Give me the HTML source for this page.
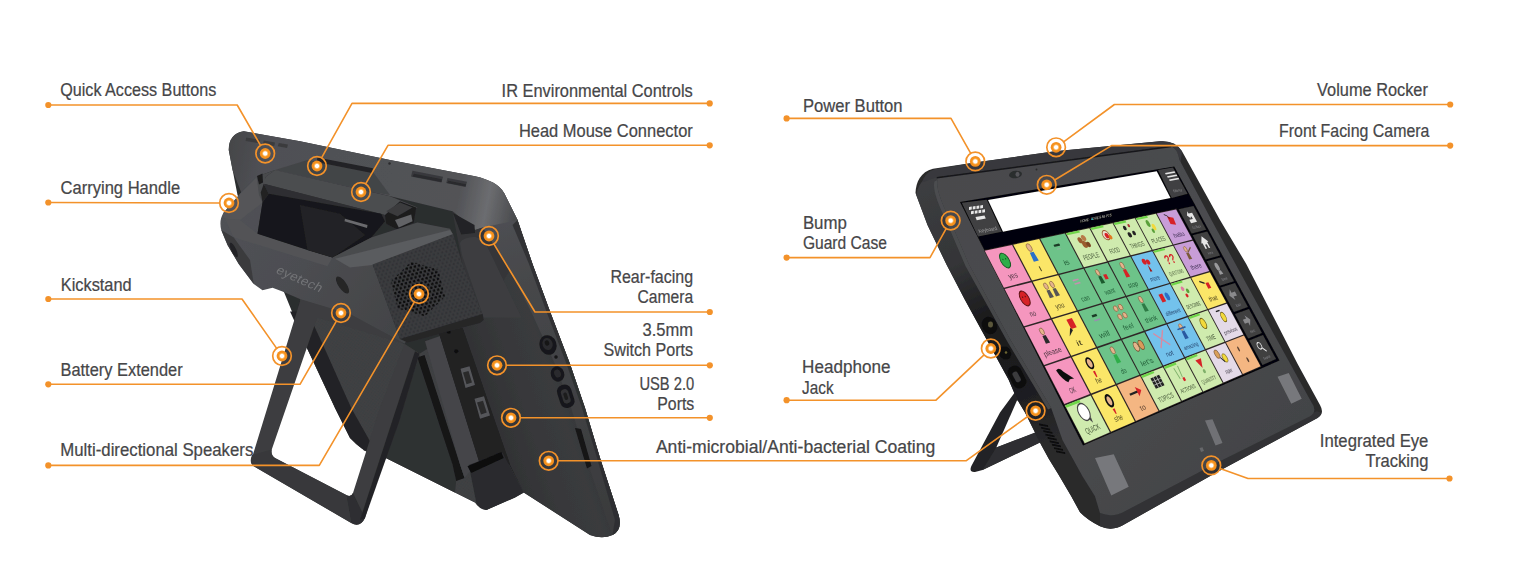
<!DOCTYPE html>
<html><head><meta charset="utf-8"><title>Device features</title>
<style>
html,body{margin:0;padding:0;background:#fff;}
body{width:1536px;height:578px;overflow:hidden;font-family:"Liberation Sans",sans-serif;}
svg{display:block}
svg text{font-family:"Liberation Sans",sans-serif;}
#labels text{font-size:17.5px;fill:#464648;stroke:#464648;stroke-width:0.22px;}
</style></head><body>
<svg width="1536" height="578" viewBox="0 0 1536 578">
<defs>
<radialGradient id="mkg" cx="0.5" cy="0.5" r="0.5">
<stop offset="0" stop-color="#ffffff"/><stop offset="0.3" stop-color="#ffffff"/><stop offset="0.48" stop-color="#fbb866"/><stop offset="0.62" stop-color="#f7941d"/><stop offset="1" stop-color="#f28c1e"/>
</radialGradient>
<g id="mk">
<circle r="9.3" fill="none" stroke="#F3922A" stroke-width="1.7"/>
<circle r="5.4" fill="url(#mkg)"/>
</g>
<linearGradient id="lgTop" gradientUnits="userSpaceOnUse" x1="115" y1="100" x2="1270" y2="330">
<stop offset="0" stop-color="#454649"/><stop offset="0.12" stop-color="#4f5054"/><stop offset="0.8" stop-color="#525357"/><stop offset="0.9" stop-color="#6c6d70"/><stop offset="1" stop-color="#4a4b4e"/>
</linearGradient>
<linearGradient id="lgSide" gradientUnits="userSpaceOnUse" x1="1050" y1="1000" x2="1560" y2="830">
<stop offset="0" stop-color="#2f3032"/><stop offset="0.35" stop-color="#37383a"/><stop offset="0.6" stop-color="#3a3b3d"/><stop offset="0.82" stop-color="#343537"/><stop offset="1" stop-color="#2d2e30"/>
</linearGradient>
<linearGradient id="lgHandle" gradientUnits="userSpaceOnUse" x1="80" y1="300" x2="800" y2="800">
<stop offset="0" stop-color="#515256"/><stop offset="0.5" stop-color="#4c4d51"/><stop offset="1" stop-color="#434447"/>
</linearGradient>
<pattern id="mesh" width="17" height="28" patternUnits="userSpaceOnUse" patternTransform="rotate(-14)">
<rect width="17" height="28" fill="#3a3b3e"/>
<circle cx="4.25" cy="7" r="4.6" fill="#313235"/><circle cx="12.75" cy="21" r="4.6" fill="#313235"/>
</pattern>
<pattern id="meshB" width="17" height="28" patternUnits="userSpaceOnUse" patternTransform="rotate(-14)">
<rect width="17" height="28" fill="#38393b"/>
<circle cx="4.25" cy="7" r="5.4" fill="#09090b"/><circle cx="12.75" cy="21" r="5.4" fill="#09090b"/>
</pattern>
<pattern id="mesh2" width="8" height="8" patternUnits="userSpaceOnUse" patternTransform="rotate(25)">
<rect width="8" height="8" fill="#404144"/>
<circle cx="2" cy="2" r="1.3" fill="#333437"/><circle cx="6" cy="6" r="1.3" fill="#333437"/>
</pattern>
<filter id="soft" x="-5%" y="-5%" width="110%" height="110%"><feGaussianBlur stdDeviation="1.6"/></filter>
<linearGradient id="bezel" gradientUnits="userSpaceOnUse" x1="200" y1="200" x2="1400" y2="1400">
<stop offset="0" stop-color="#48494c"/><stop offset="0.5" stop-color="#4b4c4f"/><stop offset="1" stop-color="#434447"/>
</linearGradient>
<linearGradient id="rside" gradientUnits="userSpaceOnUse" x1="100" y1="250" x2="600" y2="1300">
<stop offset="0" stop-color="#3c3d40"/><stop offset="0.3" stop-color="#343537"/><stop offset="0.5" stop-color="#1c1c1e"/><stop offset="0.8" stop-color="#1e1e20"/><stop offset="1" stop-color="#2a2a2c"/>
</linearGradient>
<linearGradient id="lgRim" gradientUnits="userSpaceOnUse" x1="1200" y1="350" x2="1600" y2="1600">
<stop offset="0" stop-color="#4f5054"/><stop offset="0.25" stop-color="#46474a"/><stop offset="1" stop-color="#3a3b3d"/>
</linearGradient>

</defs>
<rect width="1536" height="578" fill="#ffffff"/>
<g id="left-device">
<g transform="translate(200,120) scale(0.25)" filter="url(#soft)">
<!-- a. tablet back main silhouette -->
<path d="M115,120 Q115,55 175,45 L400,85 L760,160 L1100,225 Q1190,245 1215,290 L1270,400 L1330,576 L1400,766 L1480,976 L1540,1152 L1600,1352 L1675,1582 Q1690,1640 1650,1660 Q1610,1678 1560,1660 L1295,1490 L1260,1510 L1145,1560 Q1115,1555 1100,1530 L740,1350 L690,1335 Q650,1325 600,1272 L540,1152 L425,906 L300,600 L150,300 Z" fill="#2c2d2f"/>
<!-- b. right side face -->
<path d="M1040,450 L1100,440 L1215,290 L1270,400 L1330,576 L1400,766 L1480,976 L1540,1152 L1600,1352 L1675,1582 Q1690,1640 1650,1660 Q1610,1678 1560,1660 L1295,1490 L1240,1378 L1050,830 L1130,776 Z" fill="url(#lgSide)"/>
<!-- right-edge rim (lighter, continues top band) -->
<path d="M1215,290 L1270,400 L1330,576 L1400,766 L1480,976 L1540,1152 L1600,1352 L1675,1582 Q1690,1640 1650,1660 L1625,1590 L1545,1352 L1485,1152 L1420,976 L1330,778 L1240,600 L1130,430 L1100,440 Z" fill="url(#lgRim)"/>
<path d="M1270,400 L1330,576 L1400,766 L1480,976 L1540,1152 L1600,1352 L1675,1582 Q1690,1640 1650,1660 L1660,1600 L1588,1352 L1528,1152 L1466,976 L1386,766 L1316,576 L1250,420 Z" fill="#2a2b2d" opacity="0.75"/>
<!-- c. top band -->
<path d="M115,120 Q115,55 175,45 L400,85 L760,160 L1100,225 Q1190,245 1215,290 L1270,400 L1130,430 L1100,440 L1010,365 L700,290 L300,200 L230,225 L165,290 L130,200 Z" fill="url(#lgTop)"/>
<!-- quick access buttons -->
<path d="M185,70 L240,79 L236,93 L182,84 Z M255,82 L300,90 L297,104 L252,96 Z M315,92 L352,98 L348,112 L311,105 Z" fill="#3a3b3e"/>
<!-- IR window -->
<path d="M430,160 L690,205 L760,300 L700,290 L300,200 Z" fill="#434447"/>
<path d="M470,150 L692,193 L688,212 L466,168 Z" fill="#222325"/>
<!-- volume slots right on top band -->
<path d="M850,203 L972,227 L966,250 L844,226 Z M990,232 L1068,247 L1062,268 L985,252 Z" fill="#38393c"/>
<path d="M856,215 L968,237 L966,248 L850,226 Z M994,243 L1064,257 L1062,266 L988,252 Z" fill="#2a2b2d"/>
<circle cx="758" cy="174" r="5" fill="#2a2b2d"/>
<!-- camera region right of speaker -->
<path d="M1010,365 L1100,440 L1130,430 L1240,600 L1130,776 L1050,576 Z" fill="#353638"/>
<path d="M1012,372 L1098,420 L1100,452 L1045,458 Z" fill="#222325"/>
<path d="M1040,492 Q1050,470 1100,468 Q1135,475 1148,505 L1285,790 L1135,790 L1048,540 Z" fill="#3d3e41"/>
<!-- d. battery extender mesh panel -->
<path d="M425,906 L400,716 L600,776 L800,886 L878,935 L1050,830 L1240,1378 L1295,1490 L1145,1560 L1100,1530 L740,1350 L690,1335 L655,1322 Z" fill="url(#mesh2)"/>
<!-- tablet left edge dark band -->
<path d="M360,766 L430,766 L495,906 L605,1152 L700,1320 L690,1335 Q650,1325 600,1272 L540,1152 L425,906 Z" fill="#242426"/>
<!-- triangle panel right of leg (shadowed mesh) -->
<path d="M878,940 L1010,1378 L1025,1440 L1020,1490 L740,1350 Z" fill="#2f3032"/>
<!-- dark slot -->
<path d="M870,950 L898,940 L1040,1378 L1058,1432 L1025,1444 L1010,1378 Z" fill="#141416"/>
<!-- lighter strut -->
<path d="M900,885 L972,860 L1125,1378 L1085,1400 L1058,1432 L1040,1378 Z" fill="#444548"/>
<!-- port column -->
<path d="M955,850 L1050,830 L1240,1378 L1295,1490 L1210,1330 L1120,1378 Z" fill="#212123"/>
<path d="M955,850 L1050,830 L1240,1378 L1120,1378 Z" fill="#212123"/>
<circle cx="995" cy="847" r="8" fill="#0e0e10"/><circle cx="1025" cy="925" r="8" fill="#0e0e10"/>
<path d="M1042,995 L1078,985 L1100,1060 L1062,1072 Z M1098,1115 L1136,1105 L1160,1182 L1120,1195 Z" fill="#55565a"/>
<path d="M1052,1010 L1074,1004 L1088,1050 L1066,1057 Z M1108,1130 L1132,1123 L1147,1170 L1124,1178 Z" fill="#2a2a2c"/>
<!-- port block at bottom -->
<path d="M1075,1380 L1210,1330 L1295,1490 L1260,1510 L1145,1560 Q1115,1555 1105,1530 Z" fill="#2b2c2e"/>
<path d="M1070,1385 L1205,1328 L1215,1352 L1085,1412 Z" fill="#0d0d0f"/>
<!-- ports on side -->
<ellipse cx="1392" cy="900" rx="34" ry="40" fill="#19191b" transform="rotate(-20 1392 900)"/>
<ellipse cx="1390" cy="896" rx="20" ry="24" fill="#2b2c2e" transform="rotate(-20 1390 896)"/>
<ellipse cx="1388" cy="892" rx="9" ry="11" fill="#151517" transform="rotate(-20 1388 892)"/>
<circle cx="1424" cy="948" r="7" fill="#121214"/>
<ellipse cx="1430" cy="1016" rx="27" ry="31" fill="#19191b" transform="rotate(-20 1430 1016)"/>
<ellipse cx="1430" cy="1014" rx="13" ry="16" fill="#2b2c2e" transform="rotate(-20 1430 1014)"/>
<rect x="1434" y="1058" width="58" height="94" rx="26" fill="#18181a" transform="rotate(-18 1463 1105)"/>
<rect x="1448" y="1076" width="30" height="58" rx="14" fill="#323335" transform="rotate(-18 1463 1105)"/>
<rect x="1456" y="1090" width="14" height="30" rx="6" fill="#1c1c1e" transform="rotate(-18 1463 1105)"/>
<!-- speaker slits lower right -->
<path d="M1500,1232 L1524,1236 L1566,1384 L1548,1394 Z" fill="#141416"/>
<!-- e. kickstand frame -->
<path fill-rule="evenodd" d="M408,700 L474,705 L818,895 L878,935 L800,1152 L735,1347 L660,1592 Q640,1632 605,1612 L215,1385 Q195,1372 212,1338 Z M469,790 L287,1318 Q282,1340 300,1352 L585,1500 Q605,1510 612,1492 L720,1152 L818,895 Z" fill="#3c3d3f"/>
<!-- kickstand bevels -->
<path d="M612,1492 L660,1592 Q640,1632 605,1612 L585,1500 Q605,1510 612,1492 Z" fill="#2d2e30"/>
<path d="M795,1210 L878,935 L860,925 L770,1200 L640,1600 L660,1592 Z" fill="#242426"/>
<path d="M208,1340 L287,1318 Q282,1340 300,1352 L585,1500 L605,1612 L215,1385 Q195,1372 208,1340 Z" fill="#38393b"/>
<!-- f. logo piece + handle -->
<path d="M165,290 L230,225 L260,240 L250,330 L230,455 L430,520 L530,550 L690,576 L800,876 L830,876 L818,895 L600,776 L400,716 L330,686 L290,671 L250,681 L215,656 L155,576 L110,500 L85,440 Q75,400 95,370 Z" fill="url(#lgHandle)"/>
<!-- handle left lit face -->
<path d="M165,290 L230,225 L262,238 L250,330 L160,400 L100,395 Q88,380 95,370 Z" fill="#545558"/>
<path d="M100,395 L160,400 L230,455 L430,520 L530,550 L510,585 L200,490 L135,470 Z" fill="#525356"/>
<path d="M85,440 L135,470 L200,560 L215,656 L155,576 L110,500 Z" fill="#3a3b3e"/>
<ellipse cx="135" cy="520" rx="10" ry="32" fill="#232325" transform="rotate(-25 135 520)"/>
<!-- logo & side hole -->
<ellipse cx="570" cy="660" rx="16" ry="40" fill="#252527" transform="rotate(-35 570 660)"/>
<text transform="translate(300,610) rotate(24) skewX(-10)" style="font-size:50px;fill:#737477;letter-spacing:1px" textLength="196" lengthAdjust="spacingAndGlyphs">eyetech</text>
<!-- handle bar top -->
<path d="M300,200 L760,305 L870,350 L740,380 L255,255 L262,228 Z" fill="#4c4d50"/>
<path d="M255,255 L740,380 L740,405 L275,295 Z" fill="#2e2f31"/>
<path d="M226,226 L262,214 L300,200 L262,228 L255,255 L275,295 L250,330 L236,300 Z" fill="#4a4b4e"/><path d="M228,224 L250,214 L252,250 L236,258 Z" fill="#1d1d1f"/><path d="M255,255 L275,295 L250,330 L243,290 Z" fill="#222224"/>
<!-- recess -->
<path d="M275,295 L725,375 L740,405 L685,470 L530,550 L430,520 L230,455 L250,330 Z" fill="#18181a"/>
<path d="M400,340 L560,375 L660,460 L530,550 L430,520 Z" fill="#232325"/>
<path d="M580,395 L670,420 L668,432 L578,405 Z" fill="#6a6b6e"/>
<!-- head mouse connector -->
<path d="M740,380 L800,325 L865,350 L855,410 L790,438 L745,415 Z" fill="#1d1d1f"/>
<path d="M745,365 L800,330 L850,350 L790,385 Z" fill="#3a3b3d"/>
<path d="M780,400 L845,378 L850,405 L795,430 Z" fill="#626366"/>
<!-- speaker block top -->
<path d="M530,550 L685,470 L870,410 L1000,435 L1012,458 L690,580 L600,590 Z" fill="#4a4b4e"/>
<path d="M540,555 L1000,440 L1012,458 L690,580 L600,590 Z" fill="#5a5b5e"/>
<!-- speaker mesh face -->
<path d="M690,578 L1012,456 L1050,576 L1130,776 L1050,830 L830,880 L800,876 Z" fill="url(#mesh)"/>
<polygon points="980,707 899,785 791,754 764,645 845,567 953,598" fill="url(#meshB)"/>
<!-- speaker block lower edge -->
<path d="M800,876 L1130,776 L1135,800 L1120,812 L1050,830 L830,890 Z" fill="#262628"/>
</g>

</g>
<g id="right-device">
<g transform="translate(900,120) scale(0.25)" filter="url(#soft)">
<path d="M470,1075 L400,1170 L285,1385 Q275,1410 300,1408 L330,1400 L560,1290 L600,1240 L545,1240 Z" fill="#232325"/>
<path d="M468,1122 L385,1310 L545,1250 L490,1122 Z" fill="#ffffff"/>
<path d="M385,1310 L540,1250 L560,1290 L330,1400 Z" fill="#2e2f31"/>
<path d="M62,292 C64,248 82,208 132,195 L300,170 L620,125 L1040,85 Q1100,80 1128,125 L1280,400 L1385,576 L1490,780 L1590,975 L1680,1140 Q1700,1175 1670,1192 L1280,1402 L900,1616 Q850,1648 800,1625 Q750,1600 720,1569 L685,1505 L635,1420 L595,1355 L565,1300 L535,1240 L500,1170 L467,1115 L435,1040 L353,890 L260,720 L185,576 L110,420 Z" fill="#2a2a2c"/>
<path d="M65,300 Q75,225 180,190 L150,240 Q140,280 200,400 L275,576 L440,876 L605,1152 L650,1280 L730,1425 L780,1505 L800,1572 L800,1625 Q750,1600 720,1569 L685,1505 L635,1420 L595,1355 L565,1300 L535,1240 L500,1170 L467,1115 L435,1040 L353,890 L260,720 L185,576 L110,420 Z" fill="url(#rside)"/>
<path d="M150,240 Q140,280 200,400 L275,576 L440,876 L605,1152 L592,1158 L428,884 L262,584 L186,406 Q126,285 138,246 Z" fill="#505154" opacity="0.8"/>
<path d="M1665,1165 Q1700,1170 1670,1192 L1280,1402 L900,1616 Q850,1648 800,1625 L800,1572 Q850,1590 900,1565 L1280,1365 Z" fill="#323335"/>
<path d="M88,250 Q100,208 140,197 L300,170 L620,125 L1040,85 Q1100,80 1128,125 L1122,170 Q1108,112 1085,104 L147,229 Z" fill="#38393c"/>
<path d="M147,231 L1085,106 Q1108,112 1118,160 L1250,408 L1470,810 L1645,1128 Q1672,1165 1640,1185 L1280,1365 L900,1565 Q850,1592 800,1572 L780,1505 L730,1425 L650,1280 L605,1152 L440,876 L275,576 L200,400 Q140,280 150,240 Z" fill="url(#bezel)"/>
<path d="M147,231 L1085,106" stroke="#19191b" stroke-width="6" fill="none"/>
<ellipse cx="358" cy="822" rx="30" ry="36" fill="#0f0f11" transform="rotate(-30 358 822)"/><ellipse cx="362" cy="818" rx="10" ry="12" fill="#5a563a"/>
<ellipse cx="420" cy="932" rx="24" ry="28" fill="#0f0f11" transform="rotate(-30 420 932)"/><circle cx="424" cy="930" r="5" fill="#6a6530"/>
<rect x="440" y="980" width="56" height="96" rx="26" fill="#0f0f11" transform="rotate(-28 468 1028)"/><rect x="456" y="1005" width="22" height="44" rx="9" fill="#3a3a3c" transform="rotate(-28 468 1028)"/>
<path d="M556.0,1214.0 L592.0,1221.0 L593.0,1228.0 L557.0,1221.0 Z" fill="#09090b"/>
<path d="M564.5,1227.5 L600.5,1234.5 L601.5,1241.5 L565.5,1234.5 Z" fill="#09090b"/>
<path d="M573.0,1241.0 L609.0,1248.0 L610.0,1255.0 L574.0,1248.0 Z" fill="#09090b"/>
<path d="M581.5,1254.5 L617.5,1261.5 L618.5,1268.5 L582.5,1261.5 Z" fill="#09090b"/>
<path d="M590.0,1268.0 L626.0,1275.0 L627.0,1282.0 L591.0,1275.0 Z" fill="#09090b"/>
<path d="M598.5,1281.5 L634.5,1288.5 L635.5,1295.5 L599.5,1288.5 Z" fill="#09090b"/>
<path d="M607.0,1295.0 L643.0,1302.0 L644.0,1309.0 L608.0,1302.0 Z" fill="#09090b"/>
<path d="M615.5,1308.5 L651.5,1315.5 L652.5,1322.5 L616.5,1315.5 Z" fill="#09090b"/>
<path d="M624.0,1322.0 L660.0,1329.0 L661.0,1336.0 L625.0,1329.0 Z" fill="#09090b"/>
<polygon points="780,1352 855,1337 915,1467 845,1502" fill="#77787b"/>
<polygon points="1220,1202 1250,1197 1290,1292 1262,1302" fill="#707174"/>
<polygon points="1510,1027 1555,1012 1607,1115 1565,1135" fill="#77787b"/>
<polygon points="1198,1312 1210,1309 1216,1324 1204,1328" fill="#66676a"/>
<ellipse cx="462" cy="218" rx="26" ry="15" fill="#2c2d2f" transform="rotate(-8 462 218)"/><ellipse cx="470" cy="217" rx="8" ry="10" fill="#55565a"/>
<circle cx="546" cy="198" r="4" fill="#2a2a2c"/>
<polygon points="240,328 1097,186 1518,962 732,1302" fill="#060607"/>
<polygon points="247,331 347,319 407,447 312,466" fill="#414143"/>
<polygon points="352,320 1027,205 1082,312 412,447" fill="#ffffff"/>
<polygon points="1032,200 1092,190 1150,295 1087,312" fill="#414143"/>
<rect x="276" y="348" width="11" height="12" fill="#e8e8e8" transform="skewY(-8) translate(0,38.6)"/>
<rect x="291" y="346" width="11" height="12" fill="#e8e8e8" transform="skewY(-8) translate(0,40.7)"/>
<rect x="306" y="344" width="11" height="12" fill="#e8e8e8" transform="skewY(-8) translate(0,42.8)"/>
<rect x="321" y="342" width="11" height="12" fill="#e8e8e8" transform="skewY(-8) translate(0,44.9)"/>
<rect x="284" y="365" width="11" height="12" fill="#e8e8e8" transform="skewY(-8) translate(0,39.8)"/>
<rect x="299" y="363" width="11" height="12" fill="#e8e8e8" transform="skewY(-8) translate(0,41.9)"/>
<rect x="314" y="361" width="11" height="12" fill="#e8e8e8" transform="skewY(-8) translate(0,44.0)"/>
<rect x="329" y="359" width="11" height="12" fill="#e8e8e8" transform="skewY(-8) translate(0,46.1)"/>
<polygon points="302,388 338,382 343,394 307,401" fill="#e8e8e8"/>
<text transform="matrix(0.93 -0.16 0.45 0.9 318 452)" style="font-size:22px;fill:#9a9a9c" textLength="78" lengthAdjust="spacingAndGlyphs">Keyboard</text>
<polygon points="1060,212 1098,205 1101,211 1063,218" fill="#e4e4e4"/>
<polygon points="1068,225 1106,218 1109,224 1071,231" fill="#e4e4e4"/>
<polygon points="1076,238 1114,231 1117,237 1079,244" fill="#e4e4e4"/>
<text transform="matrix(0.93 -0.16 0.45 0.9 1096 290)" style="font-size:18px;fill:#8a8a8c" textLength="36" lengthAdjust="spacingAndGlyphs">Menu</text>
<text transform="matrix(0.97 -0.2 0 1 722 410)" style="font-size:15px;fill:#d8d8d8" textLength="128" lengthAdjust="spacingAndGlyphs">HOME · CORE &amp; AB PCS</text>
<circle cx="769" cy="396" r="3.5" fill="#2ac0d0"/>
<polygon points="335.0,521.0 1105.0,355.0 1445.0,987.0 738.0,1297.0" fill="#2e2626"/>
<polygon points="339.1,523.2 448.2,499.6 523.2,643.3 415.7,670.7" fill="#F596BE"/>
<g transform="matrix(1.0830 -0.2553 0.7581 1.4560 339.46 524.14)"><g transform="translate(0,-7)"><ellipse cx="50" cy="42" rx="15" ry="20" fill="#2fae4a" stroke="#145a22" stroke-width="3"/><circle cx="45" cy="38" r="2" fill="#145a22"/><circle cx="55" cy="38" r="2" fill="#145a22"/></g><text x="50" y="83" text-anchor="middle" style="font-size:20px;fill:#4a3540" textLength="33" lengthAdjust="spacingAndGlyphs">yes</text></g>
<polygon points="453.1,498.5 556.6,476.1 629.9,616.0 528.1,642.0" fill="#FBE668"/>
<g transform="matrix(1.0265 -0.2420 0.7415 1.4168 453.53 499.41)"><g transform="translate(0,-7)"><ellipse cx="50" cy="23.2" rx="8.4" ry="10.799999999999999" fill="#e6b48c" stroke="#6b4a2e" stroke-width="1.5"/><path d="M40.4,61.599999999999994 L42.8,36.4 L57.2,36.4 L59.6,61.599999999999994 Z" fill="#2a6fc9"/></g><text x="50" y="83" text-anchor="middle" style="font-size:20px;fill:#4d4520" textLength="11" lengthAdjust="spacingAndGlyphs">I</text></g>
<polygon points="561.3,475.1 659.5,453.9 731.3,590.1 634.6,614.8" fill="#6DC389"/>
<g transform="matrix(0.9743 -0.2297 0.7255 1.3795 561.67 475.97)"><g transform="translate(0,-7)"><rect x="36" y="30" width="24" height="6" rx="2" fill="#1d3b27"/><rect x="40" y="42" width="16" height="3" fill="#8ab79a"/></g><text x="50" y="83" text-anchor="middle" style="font-size:20px;fill:#24603a" textLength="22" lengthAdjust="spacingAndGlyphs">is</text></g>
<polygon points="664.0,452.9 757.3,432.7 827.6,565.5 735.7,589.0" fill="#CFEBAE"/>
<polygon points="664.0,452.9 715.8,441.7 720.2,450.0 668.4,461.3" fill="#6fd64a"/>
<g transform="matrix(0.9260 -0.2183 0.7102 1.3442 664.32 453.72)"><g transform="translate(0,-7)"><circle cx="40" cy="34" r="9" fill="#9a5b2e"/><circle cx="58" cy="30" r="9" fill="#b87a4a"/><circle cx="50" cy="48" r="10" fill="#9a5b2e"/><circle cx="64" cy="50" r="8" fill="#7a4520"/></g><text x="50" y="83" text-anchor="middle" style="font-size:20px;fill:#47583a" textLength="66" lengthAdjust="spacingAndGlyphs">PEOPLE</text></g>
<polygon points="761.6,431.8 850.4,412.6 919.2,542.1 831.8,564.4" fill="#CFEBAE"/>
<polygon points="761.6,431.8 810.9,421.1 815.2,429.2 765.9,440.0" fill="#6fd64a"/>
<g transform="matrix(0.8812 -0.2077 0.6955 1.3107 761.90 432.57)"><g transform="translate(0,-7)"><circle cx="48" cy="36" r="14" fill="#e8e0d0" stroke="#9a5b2e" stroke-width="3"/><circle cx="50" cy="38" r="8" fill="#d62027"/><circle cx="62" cy="44" r="7" fill="#e07a20"/></g><text x="50" y="83" text-anchor="middle" style="font-size:20px;fill:#47583a" textLength="44" lengthAdjust="spacingAndGlyphs">FOOD</text></g>
<polygon points="854.4,411.7 939.1,393.4 1006.5,519.8 923.2,541.1" fill="#CFEBAE"/>
<polygon points="854.4,411.7 901.4,401.5 905.7,409.5 858.7,419.7" fill="#6fd64a"/>
<g transform="matrix(0.8396 -0.1979 0.6814 1.2788 854.76 412.45)"><g transform="translate(0,-7)"><circle cx="36" cy="28" r="7" fill="#222"/><circle cx="58" cy="24" r="5" fill="#a33"/><circle cx="42" cy="50" r="8" fill="#222"/><circle cx="64" cy="48" r="7" fill="#222"/></g><text x="50" y="83" text-anchor="middle" style="font-size:20px;fill:#47583a" textLength="66" lengthAdjust="spacingAndGlyphs">THINGS</text></g>
<polygon points="942.9,392.6 1023.7,375.1 1089.8,498.5 1010.3,518.8" fill="#CFEBAE"/>
<polygon points="942.9,392.6 987.8,382.9 991.9,390.6 947.1,400.4" fill="#6fd64a"/>
<g transform="matrix(0.8009 -0.1888 0.6678 1.2484 943.25 393.27)"><g transform="translate(0,-7)"><ellipse cx="42" cy="30" rx="8" ry="11" fill="#5aa03a"/><ellipse cx="60" cy="44" rx="8" ry="10" fill="#f2d93a"/><ellipse cx="48" cy="54" rx="6" ry="7" fill="#5aa03a"/></g><text x="50" y="83" text-anchor="middle" style="font-size:20px;fill:#47583a" textLength="66" lengthAdjust="spacingAndGlyphs">PLACES</text></g>
<polygon points="1027.4,374.3 1104.4,357.6 1169.3,478.2 1093.4,497.6" fill="#C89DD8"/>
<g transform="matrix(0.7648 -0.1803 0.6548 1.2194 1027.66 374.98)"><g transform="translate(0,-7)"><path d="M40,22 L66,30 L62,52 L38,46 Z" fill="#d62027"/><path d="M30,14 Q44,18 48,30" stroke="#222" stroke-width="3" fill="none"/></g><text x="50" y="83" text-anchor="middle" style="font-size:20px;fill:#45355a" textLength="55" lengthAdjust="spacingAndGlyphs">hello</text></g>
<polygon points="418.6,676.2 526.0,648.6 601.5,793.2 495.7,824.8" fill="#F596BE"/>
<g transform="matrix(1.0660 -0.2955 0.7631 1.4656 418.96 677.21)"><g transform="translate(0,-7)"><ellipse cx="50" cy="42" rx="15" ry="20" fill="#d62027" stroke="#5a1010" stroke-width="3"/><circle cx="45" cy="38" r="2" fill="#5a1010"/><circle cx="55" cy="38" r="2" fill="#5a1010"/></g><text x="50" y="83" text-anchor="middle" style="font-size:20px;fill:#4a3540" textLength="22" lengthAdjust="spacingAndGlyphs">no</text></g>
<polygon points="530.9,647.4 632.7,621.2 706.5,762.0 606.3,791.8" fill="#FBE668"/>
<g transform="matrix(1.0102 -0.2801 0.7463 1.4258 531.27 648.30)"><g transform="translate(0,-7)"><ellipse cx="38" cy="26.0" rx="7.0" ry="9.0" fill="#e6b48c" stroke="#6b4a2e" stroke-width="1.5"/><path d="M30.0,58.0 L32.0,37.0 L44.0,37.0 L46.0,58.0 Z" fill="#555"/><ellipse cx="62" cy="26.0" rx="7.0" ry="9.0" fill="#e6b48c" stroke="#6b4a2e" stroke-width="1.5"/><path d="M54.0,58.0 L56.0,37.0 L68.0,37.0 L70.0,58.0 Z" fill="#555"/></g><text x="50" y="83" text-anchor="middle" style="font-size:20px;fill:#4d4520" textLength="33" lengthAdjust="spacingAndGlyphs">you</text></g>
<polygon points="637.3,620.0 734.0,595.2 806.2,732.3 711.1,760.6" fill="#6DC389"/>
<g transform="matrix(0.9587 -0.2658 0.7301 1.3881 637.72 620.90)"><g transform="translate(0,-7)"><rect x="38" y="28" width="24" height="4" fill="#c58fb0"/><rect x="38" y="38" width="24" height="4" fill="#c58fb0"/></g><text x="50" y="83" text-anchor="middle" style="font-size:20px;fill:#24603a" textLength="33" lengthAdjust="spacingAndGlyphs">can</text></g>
<polygon points="738.4,594.1 830.2,570.5 901.0,704.0 810.6,731.0" fill="#6DC389"/>
<g transform="matrix(0.9111 -0.2526 0.7146 1.3524 738.75 594.90)"><g transform="translate(0,-7)"><ellipse cx="42" cy="26.0" rx="7.0" ry="9.0" fill="#e6b48c" stroke="#6b4a2e" stroke-width="1.5"/><path d="M34.0,58.0 L36.0,37.0 L48.0,37.0 L50.0,58.0 Z" fill="#1d5a2e"/><rect x="58" y="36" width="14" height="14" fill="#d62027"/></g><text x="50" y="83" text-anchor="middle" style="font-size:20px;fill:#24603a" textLength="44" lengthAdjust="spacingAndGlyphs">want</text></g>
<polygon points="834.4,569.4 921.8,546.9 991.1,677.2 905.1,702.8" fill="#6DC389"/>
<g transform="matrix(0.8669 -0.2403 0.6997 1.3184 834.77 570.18)"><g transform="translate(0,-7)"><ellipse cx="48" cy="24.599999999999998" rx="7.700000000000001" ry="9.9" fill="#e6b48c" stroke="#6b4a2e" stroke-width="1.5"/><path d="M39.2,59.8 L41.4,36.7 L54.6,36.7 L56.8,59.8 Z" fill="#d62027"/></g><text x="50" y="83" text-anchor="middle" style="font-size:20px;fill:#24603a" textLength="44" lengthAdjust="spacingAndGlyphs">stop</text></g>
<polygon points="925.8,545.9 1009.1,524.5 1076.9,651.6 995.0,676.0" fill="#73C2EC"/>
<g transform="matrix(0.8258 -0.2289 0.6854 1.2862 926.14 546.66)"><g transform="translate(0,-7)"><circle cx="42" cy="30" r="9" fill="#d62027"/><circle cx="58" cy="34" r="8" fill="#d62027"/><path d="M50,40 L46,62 L56,62 Z" fill="#a01818"/></g><text x="50" y="83" text-anchor="middle" style="font-size:20px;fill:#27466f" textLength="44" lengthAdjust="spacingAndGlyphs">more</text></g>
<polygon points="1012.9,523.5 1092.3,503.1 1158.8,627.2 1080.7,650.5" fill="#CFEBAE"/>
<polygon points="1012.9,523.5 1057.0,512.2 1061.1,520.0 1017.1,531.4" fill="#6fd64a"/>
<g transform="matrix(0.7876 -0.2183 0.6716 1.2554 1013.19 524.26)"><g transform="translate(0,-7)"><text x="30" y="56" font-size="40" font-weight="bold" fill="#d62027" style="font-family:'Liberation Sans',sans-serif;font-size:40px;fill:#d62027">??</text></g><text x="50" y="83" text-anchor="middle" style="font-size:17px;fill:#47583a" textLength="70" lengthAdjust="spacingAndGlyphs">QUESTIONS</text></g>
<polygon points="1095.9,502.2 1171.7,482.7 1237.0,604.0 1162.4,626.2" fill="#C89DD8"/>
<g transform="matrix(0.7520 -0.2085 0.6584 1.2261 1096.23 502.89)"><g transform="translate(0,-7)"><ellipse cx="44" cy="26.0" rx="7.0" ry="9.0" fill="#e6b48c" stroke="#6b4a2e" stroke-width="1.5"/><path d="M36.0,58.0 L38.0,37.0 L50.0,37.0 L52.0,58.0 Z" fill="#7a5a3a"/><path d="M50,36 L72,24" stroke="#7a5a3a" stroke-width="4"/></g><text x="50" y="83" text-anchor="middle" style="font-size:20px;fill:#45355a" textLength="55" lengthAdjust="spacingAndGlyphs">there</text></g>
<polygon points="498.6,830.3 604.3,798.7 680.3,944.2 576.2,979.8" fill="#F596BE"/>
<g transform="matrix(1.0488 -0.3363 0.7682 1.4753 499.00 831.31)"><g transform="translate(0,-7)"><ellipse cx="50" cy="28.0" rx="7.0" ry="9.0" fill="#e6b48c" stroke="#6b4a2e" stroke-width="1.5"/><path d="M42.0,60.0 L44.0,39.0 L56.0,39.0 L58.0,60.0 Z" fill="#2a2a2a"/></g><text x="50" y="83" text-anchor="middle" style="font-size:20px;fill:#4a3540" textLength="66" lengthAdjust="spacingAndGlyphs">please</text></g>
<polygon points="609.1,797.2 709.3,767.2 783.6,908.9 685.0,942.6" fill="#FBE668"/>
<g transform="matrix(0.9938 -0.3187 0.7510 1.4350 609.52 798.16)"><g transform="translate(0,-7)"><rect x="48" y="18" width="22" height="26" fill="#d62027"/><path d="M30,60 L46,40 L52,48 Z" fill="#222"/></g><text x="50" y="83" text-anchor="middle" style="font-size:20px;fill:#4d4520" textLength="22" lengthAdjust="spacingAndGlyphs">it</text></g>
<polygon points="713.9,765.9 808.9,737.4 881.6,875.3 788.1,907.3" fill="#6DC389"/>
<g transform="matrix(0.9429 -0.3024 0.7346 1.3968 714.25 766.74)"><g transform="translate(0,-7)"><rect x="40" y="26" width="20" height="6" fill="#1d3b27"/><rect x="40" y="40" width="24" height="4" fill="#9a8fb0"/></g><text x="50" y="83" text-anchor="middle" style="font-size:20px;fill:#24603a" textLength="44" lengthAdjust="spacingAndGlyphs">will</text></g>
<polygon points="813.3,736.1 903.6,709.0 974.8,843.4 885.9,873.8" fill="#6DC389"/>
<g transform="matrix(0.8959 -0.2873 0.7189 1.3606 813.64 736.94)"><g transform="translate(0,-7)"><circle cx="38" cy="28" r="8" fill="#e6b48c" stroke="#8a5a3a" stroke-width="2"/><circle cx="60" cy="28" r="8" fill="#e6b48c" stroke="#8a5a3a" stroke-width="2"/><circle cx="38" cy="52" r="8" fill="#e6b48c" stroke="#8a5a3a" stroke-width="2"/><circle cx="60" cy="52" r="8" fill="#e6b48c" stroke="#8a5a3a" stroke-width="2"/></g><text x="50" y="83" text-anchor="middle" style="font-size:20px;fill:#24603a" textLength="44" lengthAdjust="spacingAndGlyphs">feel</text></g>
<polygon points="907.7,707.8 993.7,682.1 1063.4,813.1 978.8,842.0" fill="#6DC389"/>
<g transform="matrix(0.8523 -0.2733 0.7038 1.3263 908.09 708.61)"><g transform="translate(0,-7)"><ellipse cx="50" cy="24.599999999999998" rx="7.700000000000001" ry="9.9" fill="#e6b48c" stroke="#6b4a2e" stroke-width="1.5"/><path d="M41.2,59.8 L43.4,36.7 L56.6,36.7 L58.8,59.8 Z" fill="#2d7a45"/></g><text x="50" y="83" text-anchor="middle" style="font-size:20px;fill:#24603a" textLength="55" lengthAdjust="spacingAndGlyphs">think</text></g>
<polygon points="997.6,680.9 1079.5,656.4 1147.7,784.2 1067.2,811.8" fill="#73C2EC"/>
<g transform="matrix(0.8118 -0.2603 0.6893 1.2936 997.95 681.67)"><g transform="translate(0,-7)"><rect x="28" y="26" width="18" height="24" fill="#d62027"/><ellipse cx="62" cy="38" rx="9" ry="12" fill="#2a6fc9"/></g><text x="50" y="83" text-anchor="middle" style="font-size:17px;fill:#27466f" textLength="70" lengthAdjust="spacingAndGlyphs">different</text></g>
<polygon points="1083.2,655.3 1161.3,631.9 1228.2,756.7 1151.4,783.0" fill="#CFEBAE"/>
<polygon points="1083.2,655.3 1126.6,642.3 1130.8,650.1 1087.5,663.2" fill="#6fd64a"/>
<g transform="matrix(0.7742 -0.2482 0.6754 1.2625 1083.54 656.00)"><g transform="translate(0,-7)"><circle cx="40" cy="30" r="7" fill="#e07aa0"/><circle cx="58" cy="40" r="7" fill="#5aa03a"/><circle cx="44" cy="52" r="6" fill="#d62027"/></g><text x="50" y="83" text-anchor="middle" style="font-size:17px;fill:#47583a" textLength="70" lengthAdjust="spacingAndGlyphs">DESCRIBE</text></g>
<polygon points="1164.9,630.8 1239.4,608.5 1305.0,730.4 1231.7,755.5" fill="#FBE668"/>
<g transform="matrix(0.7391 -0.2370 0.6620 1.2329 1165.18 631.52)"><g transform="translate(0,-7)"><rect x="52" y="34" width="16" height="18" fill="#d62027"/><path d="M28,24 L48,34" stroke="#222" stroke-width="5"/></g><text x="50" y="83" text-anchor="middle" style="font-size:20px;fill:#4d4520" textLength="44" lengthAdjust="spacingAndGlyphs">that</text></g>
<polygon points="579.1,985.4 683.1,949.7 759.6,1096.2 657.3,1135.9" fill="#F596BE"/>
<g transform="matrix(1.0313 -0.3776 0.7733 1.4851 579.57 986.43)"><g transform="translate(0,-7)"><path d="M30,25 Q45,18 52,34 L75,58 L60,56 L50,62 Q34,50 30,25 Z" fill="#111"/></g><text x="50" y="83" text-anchor="middle" style="font-size:20px;fill:#4a3540" textLength="22" lengthAdjust="spacingAndGlyphs">OK</text></g>
<polygon points="687.9,948.0 786.4,914.2 861.2,1056.7 764.3,1094.4" fill="#FBE668"/>
<g transform="matrix(0.9770 -0.3577 0.7559 1.4442 688.27 948.99)"><g transform="translate(0,-7)"><ellipse cx="50" cy="36" rx="11" ry="14" fill="#e6b48c" stroke="#111" stroke-width="5"/><path d="M46,58 L54,58 L52,74 L48,74 Z" fill="#d62027"/></g><text x="50" y="83" text-anchor="middle" style="font-size:20px;fill:#4d4520" textLength="22" lengthAdjust="spacingAndGlyphs">he</text></g>
<polygon points="790.9,912.6 884.4,880.5 957.5,1019.2 865.6,1055.0" fill="#6DC389"/>
<g transform="matrix(0.9269 -0.3394 0.7393 1.4056 791.27 913.51)"><g transform="translate(0,-7)"><ellipse cx="50" cy="24.599999999999998" rx="7.700000000000001" ry="9.9" fill="#e6b48c" stroke="#6b4a2e" stroke-width="1.5"/><path d="M41.2,59.8 L43.4,36.7 L56.6,36.7 L58.8,59.8 Z" fill="#2fae4a"/></g><text x="50" y="83" text-anchor="middle" style="font-size:20px;fill:#24603a" textLength="22" lengthAdjust="spacingAndGlyphs">do</text></g>
<polygon points="888.6,879.0 977.4,848.5 1049.0,983.7 961.7,1017.6" fill="#6DC389"/>
<g transform="matrix(0.8806 -0.3224 0.7233 1.3690 889.00 879.85)"><g transform="translate(0,-7)"><ellipse cx="40" cy="36" rx="10" ry="13" fill="#e6b48c" stroke="#6b4a2e" stroke-width="2.5"/><ellipse cx="62" cy="36" rx="10" ry="13" fill="#d99a5a" stroke="#6b4a2e" stroke-width="2.5"/></g><text x="50" y="83" text-anchor="middle" style="font-size:20px;fill:#24603a" textLength="55" lengthAdjust="spacingAndGlyphs">let's</text></g>
<polygon points="981.5,847.1 1066.0,818.0 1136.0,949.8 1053.0,982.1" fill="#73C2EC"/>
<g transform="matrix(0.8376 -0.3067 0.7080 1.3342 981.84 847.88)"><g transform="translate(0,-7)"><path d="M28,18 L72,62 M72,18 L28,62" stroke="#d98aa0" stroke-width="5"/></g><text x="50" y="83" text-anchor="middle" style="font-size:20px;fill:#27466f" textLength="33" lengthAdjust="spacingAndGlyphs">not</text></g>
<polygon points="1069.8,816.7 1150.3,789.0 1218.9,917.6 1139.8,948.3" fill="#73C2EC"/>
<g transform="matrix(0.7977 -0.2921 0.6934 1.3012 1070.17 817.46)"><g transform="translate(0,-7)"><ellipse cx="50" cy="26.599999999999998" rx="7.700000000000001" ry="9.9" fill="#e6b48c" stroke="#6b4a2e" stroke-width="1.5"/><path d="M41.2,61.8 L43.4,38.7 L56.6,38.7 L58.8,61.8 Z" fill="#2a5aa0"/><path d="M30,30 L70,30" stroke="#2a5aa0" stroke-width="4"/></g><text x="50" y="83" text-anchor="middle" style="font-size:17px;fill:#27466f" textLength="70" lengthAdjust="spacingAndGlyphs">amazing</text></g>
<polygon points="1154.0,787.8 1230.7,761.4 1297.9,886.9 1222.6,916.2" fill="#CFEBAE"/>
<polygon points="1154.0,787.8 1196.6,773.1 1200.8,781.0 1158.2,795.7" fill="#6fd64a"/>
<g transform="matrix(0.7606 -0.2785 0.6793 1.2697 1154.29 788.49)"><g transform="translate(0,-7)"><ellipse cx="50" cy="38" rx="12" ry="16" fill="#f2d93a" stroke="#6b5a10" stroke-width="3"/></g><text x="50" y="83" text-anchor="middle" style="font-size:20px;fill:#47583a" textLength="44" lengthAdjust="spacingAndGlyphs">TIME</text></g>
<polygon points="1234.2,760.2 1307.4,735.0 1373.4,857.6 1301.4,885.5" fill="#E4DAE8"/>
<g transform="matrix(0.7260 -0.2658 0.6657 1.2397 1234.51 760.87)"><g transform="translate(0,-7)"><ellipse cx="52" cy="40" rx="11" ry="15" fill="#f2d93a" stroke="#6b5a10" stroke-width="3"/><path d="M30,18 L50,18" stroke="#222" stroke-width="4"/></g><text x="50" y="83" text-anchor="middle" style="font-size:17px;fill:#4a4550" textLength="70" lengthAdjust="spacingAndGlyphs">previous</text></g>
<polygon points="660.2,1141.6 762.5,1101.7 839.4,1249.1 738.9,1293.1" fill="#CFEBAE"/>
<polygon points="660.2,1141.6 717.1,1119.4 722.0,1128.6 665.1,1151.0" fill="#6fd64a"/>
<g transform="matrix(1.0136 -0.4195 0.7784 1.4949 660.68 1142.59)"><g transform="translate(0,-7)"><ellipse cx="50" cy="38" rx="19" ry="22" fill="#fff" stroke="#444" stroke-width="3.5"/><path d="M54,58 L62,70 L64,56 Z" fill="#444"/></g><text x="50" y="83" text-anchor="middle" style="font-size:20px;fill:#47583a" textLength="55" lengthAdjust="spacingAndGlyphs">QUICK</text></g>
<polygon points="767.1,1099.8 864.0,1062.0 939.2,1205.5 844.0,1247.1" fill="#FBE668"/>
<g transform="matrix(0.9601 -0.3973 0.7608 1.4536 767.54 1100.80)"><g transform="translate(0,-7)"><ellipse cx="50" cy="36" rx="11" ry="15" fill="#e6b48c" stroke="#111" stroke-width="6"/><path d="M46,58 L54,58 L52,72 L48,72 Z" fill="#d62027"/></g><text x="50" y="83" text-anchor="middle" style="font-size:20px;fill:#4d4520" textLength="33" lengthAdjust="spacingAndGlyphs">she</text></g>
<polygon points="868.4,1060.3 960.2,1024.4 1033.8,1164.1 943.6,1203.6" fill="#F4B682"/>
<g transform="matrix(0.9107 -0.3769 0.7439 1.4145 868.78 1061.21)"><g transform="translate(0,-7)"><rect x="28" y="38" width="36" height="6" fill="#222"/><path d="M60,28 L78,41 L60,54 Z" fill="#d62027"/></g><text x="50" y="83" text-anchor="middle" style="font-size:20px;fill:#5a4030" textLength="22" lengthAdjust="spacingAndGlyphs">to</text></g>
<polygon points="964.4,1022.8 1051.7,988.7 1123.7,1124.7 1038.0,1162.3" fill="#CFEBAE"/>
<polygon points="964.4,1022.8 1013.0,1003.9 1017.5,1012.4 969.0,1031.5" fill="#6fd64a"/>
<g transform="matrix(0.8650 -0.3580 0.7278 1.3774 964.82 1023.66)"><g transform="translate(0,-7)"><rect x="30" y="22" width="40" height="30" fill="#222"/><path d="M30,32 H70 M30,42 H70 M43,22 V52 M57,22 V52" stroke="#ddd" stroke-width="2"/></g><text x="50" y="83" text-anchor="middle" style="font-size:20px;fill:#47583a" textLength="66" lengthAdjust="spacingAndGlyphs">TOPICS</text></g>
<polygon points="1055.7,987.2 1138.7,954.8 1209.2,1087.3 1127.6,1123.0" fill="#CFEBAE"/>
<polygon points="1055.7,987.2 1101.8,969.2 1106.2,977.5 1060.1,995.6" fill="#6fd64a"/>
<g transform="matrix(0.8227 -0.3404 0.7123 1.3422 1056.04 987.98)"><g transform="translate(0,-7)"><path d="M36,20 L40,52 M56,18 L52,50" stroke="#7fb06a" stroke-width="4"/><rect x="50" y="52" width="10" height="10" fill="#d62027"/></g><text x="50" y="83" text-anchor="middle" style="font-size:17px;fill:#47583a" textLength="70" lengthAdjust="spacingAndGlyphs">ACTIONS</text></g>
<polygon points="1142.5,953.3 1221.5,922.4 1290.5,1051.7 1212.9,1085.7" fill="#CFEBAE"/>
<polygon points="1142.5,953.3 1186.4,936.1 1190.7,944.2 1146.8,961.5" fill="#6fd64a"/>
<g transform="matrix(0.7834 -0.3242 0.6974 1.3088 1142.82 954.05)"><g transform="translate(0,-7)"><path d="M36,22 L64,22 L50,48 Z" fill="#d62027"/><circle cx="50" cy="58" r="6" fill="#7fb06a"/></g><text x="50" y="83" text-anchor="middle" style="font-size:17px;fill:#47583a" textLength="70" lengthAdjust="spacingAndGlyphs">QUANTITY</text></g>
<polygon points="1225.1,921.0 1300.5,891.6 1368.1,1017.8 1294.1,1050.2" fill="#E4DAE8"/>
<g transform="matrix(0.7468 -0.3090 0.6831 1.2769 1225.45 921.74)"><g transform="translate(0,-7)"><ellipse cx="38" cy="28" rx="10" ry="13" fill="#d9a05a" stroke="#6b4a2e" stroke-width="2"/><ellipse cx="64" cy="46" rx="10" ry="13" fill="#f2d93a" stroke="#6b5a10" stroke-width="2"/><path d="M44,40 L56,56" stroke="#222" stroke-width="4"/></g><text x="50" y="83" text-anchor="middle" style="font-size:20px;fill:#4a4550" textLength="33" lengthAdjust="spacingAndGlyphs">now</text></g>
<polygon points="1303.9,890.2 1375.8,862.2 1442.1,985.4 1371.5,1016.3" fill="#F4B682"/>
<g transform="matrix(0.7128 -0.2950 0.6694 1.2466 1304.24 890.94)"><ellipse cx="42" cy="30" rx="4" ry="8" fill="#5a4030"/><ellipse cx="58" cy="68" rx="4" ry="8" fill="#5a4030"/></g>
<polygon points="1114.6,357.1 1173.9,344.3 1225.0,439.0 1166.5,453.5" fill="#3f3f41"/>
<g transform="matrix(0.5891 -0.1369 0.5151 0.9560 1114.76 357.52)"><path d="M30,30 L46,14 L46,24 L70,24 L70,62 L30,62 L30,48 L54,48 L54,38 L46,38 L46,46 Z" fill="#e6e6e6"/><text x="50" y="86" text-anchor="middle" style="font-size:15px;fill:#8e8e90" textLength="56" lengthAdjust="spacingAndGlyphs">Go Back</text></g>
<polygon points="1170.5,461.0 1229.0,446.4 1280.3,541.6 1222.6,557.9" fill="#3f3f41"/>
<g transform="matrix(0.5809 -0.1549 0.5175 0.9603 1170.69 461.45)"><path d="M50,12 L74,38 L66,38 L66,62 L56,62 L56,46 L44,46 L44,62 L34,62 L34,38 L26,38 Z" fill="#e6e6e6"/><text x="50" y="86" text-anchor="middle" style="font-size:15px;fill:#8e8e90" textLength="32" lengthAdjust="spacingAndGlyphs">Home</text></g>
<polygon points="1226.7,565.4 1284.3,549.0 1335.9,644.6 1279.0,662.7" fill="#3f3f41"/>
<g transform="matrix(0.5726 -0.1731 0.5198 0.9646 1226.87 565.85)"><ellipse cx="46" cy="30" rx="12" ry="16" fill="#9a9a9c"/><path d="M40,46 L56,46 L60,62 L36,62 Z" fill="#9a9a9c"/><text x="50" y="86" text-anchor="middle" style="font-size:15px;fill:#8e8e90" textLength="40" lengthAdjust="spacingAndGlyphs">Speak</text></g>
<polygon points="1283.1,670.3 1339.9,652.0 1391.7,748.1 1335.7,768.1" fill="#3f3f41"/>
<g transform="matrix(0.5642 -0.1914 0.5221 0.9689 1283.31 670.73)"><path d="M26,38 L48,16 L48,30 L72,30 L72,46 L48,46 L48,60 Z" fill="#8a8a8c"/><text x="50" y="86" text-anchor="middle" style="font-size:15px;fill:#8e8e90" textLength="32" lengthAdjust="spacingAndGlyphs">Back</text></g>
<polygon points="1339.8,775.7 1395.8,755.5 1447.8,852.0 1392.7,873.8" fill="#3f3f41"/>
<g transform="matrix(0.5557 -0.2100 0.5245 0.9733 1340.01 776.08)"><path d="M74,38 L52,16 L52,30 L28,30 L28,46 L52,46 L52,60 Z" fill="#8a8a8c"/><text x="50" y="86" text-anchor="middle" style="font-size:15px;fill:#8e8e90" textLength="32" lengthAdjust="spacingAndGlyphs">Next</text></g>
<polygon points="1396.8,881.5 1451.9,859.5 1504.2,956.4 1449.9,980.1" fill="#3f3f41"/>
<g transform="matrix(0.5471 -0.2286 0.5269 0.9777 1396.97 881.92)"><circle cx="44" cy="32" r="13" fill="none" stroke="#e6e6e6" stroke-width="5"/><path d="M53,43 L70,60" stroke="#e6e6e6" stroke-width="6"/><text x="50" y="86" text-anchor="middle" style="font-size:15px;fill:#8e8e90" textLength="48" lengthAdjust="spacingAndGlyphs">Search</text></g>
</g>
</g>
<g id="callouts" fill="none" stroke="#F3922A" stroke-width="1.6" stroke-linejoin="round">
<polyline points="48.3,105 237.2,105 260.55,145.45"/>
<circle cx="48.3" cy="105" r="3.1" fill="#F3922A" stroke="none"/>
<polyline points="48.3,202.5 219.7,202.97"/>
<circle cx="48.3" cy="202.5" r="3.1" fill="#F3922A" stroke="none"/>
<polyline points="48.3,299 242,299 276.66,348.39"/>
<circle cx="48.3" cy="299" r="3.1" fill="#F3922A" stroke="none"/>
<polyline points="48.3,384.3 300,384.3 336.36,321.06"/>
<circle cx="48.3" cy="384.3" r="3.1" fill="#F3922A" stroke="none"/>
<polyline points="48.3,465.4 319.3,465.4 414.32,302.04"/>
<circle cx="48.3" cy="465.4" r="3.1" fill="#F3922A" stroke="none"/>
<polyline points="709.7,103.4 352,103.4 321.54,157.88"/>
<circle cx="709.7" cy="103.4" r="3.1" fill="#F3922A" stroke="none"/>
<polyline points="709.7,145.3 388,145.3 365.65,183.95"/>
<circle cx="709.7" cy="145.3" r="3.1" fill="#F3922A" stroke="none"/>
<polyline points="709.8,312 535,312 493.82,243.96"/>
<circle cx="709.8" cy="312" r="3.1" fill="#F3922A" stroke="none"/>
<polyline points="709.8,365.3 506.3,365.3"/>
<circle cx="709.8" cy="365.3" r="3.1" fill="#F3922A" stroke="none"/>
<polyline points="709.8,417.8 520.3,417.8"/>
<circle cx="709.8" cy="417.8" r="3.1" fill="#F3922A" stroke="none"/>
<polyline points="558.0,460.8 966,460.8 1028.05,416.23"/>
<polyline points="786.6,118.4 951,118.4 970.72,153.3"/>
<circle cx="786.6" cy="118.4" r="3.1" fill="#F3922A" stroke="none"/>
<polyline points="786.6,257.6 930,257.6 946.16,228.72"/>
<circle cx="786.6" cy="257.6" r="3.1" fill="#F3922A" stroke="none"/>
<polyline points="786.6,400.2 936,400.2 984.04,354.88"/>
<circle cx="786.6" cy="400.2" r="3.1" fill="#F3922A" stroke="none"/>
<polyline points="1450.2,104.5 1114.4,104.5 1063.6,141.8"/>
<circle cx="1450.2" cy="104.5" r="3.1" fill="#F3922A" stroke="none"/>
<polyline points="1450.2,145.6 1111.5,145.6 1054.66,179.99"/>
<circle cx="1450.2" cy="145.6" r="3.1" fill="#F3922A" stroke="none"/>
<polyline points="1449.5,478.5 1248,478.5 1220.06,468.53"/>
<circle cx="1449.5" cy="478.5" r="3.1" fill="#F3922A" stroke="none"/>
</g>
<g id="markers">
<use href="#mk" x="265.2" y="153.5"/>
<use href="#mk" x="229" y="203"/>
<use href="#mk" x="282" y="356"/>
<use href="#mk" x="341" y="313"/>
<use href="#mk" x="419" y="294"/>
<use href="#mk" x="317" y="166"/>
<use href="#mk" x="361" y="192"/>
<use href="#mk" x="489" y="236"/>
<use href="#mk" x="497" y="365.3"/>
<use href="#mk" x="511" y="417.8"/>
<use href="#mk" x="548.7" y="460.8"/>
<use href="#mk" x="1035.6" y="410.8"/>
<use href="#mk" x="975.3" y="161.4"/>
<use href="#mk" x="950.7" y="220.6"/>
<use href="#mk" x="990.8" y="348.5"/>
<use href="#mk" x="1056.1" y="147.3"/>
<use href="#mk" x="1046.7" y="184.8"/>
<use href="#mk" x="1211.3" y="465.4"/>
</g>
<g id="labels">
<text x="60.2" y="96" text-anchor="start" textLength="156.2" lengthAdjust="spacingAndGlyphs">Quick Access Buttons</text>
<text x="60.5" y="194" text-anchor="start" textLength="119.6" lengthAdjust="spacingAndGlyphs">Carrying Handle</text>
<text x="60.8" y="290.6" text-anchor="start" textLength="70.8" lengthAdjust="spacingAndGlyphs">Kickstand</text>
<text x="60.5" y="375.7" text-anchor="start" textLength="122.2" lengthAdjust="spacingAndGlyphs">Battery Extender</text>
<text x="60.3" y="455.9" text-anchor="start" textLength="193" lengthAdjust="spacingAndGlyphs">Multi-directional Speakers</text>
<text x="692.8" y="96.7" text-anchor="end" textLength="191.2" lengthAdjust="spacingAndGlyphs">IR Environmental Controls</text>
<text x="692.8" y="137" text-anchor="end" textLength="173.9" lengthAdjust="spacingAndGlyphs">Head Mouse Connector</text>
<text x="693.1" y="282.6" text-anchor="end" textLength="82.7" lengthAdjust="spacingAndGlyphs">Rear-facing</text>
<text x="693.1" y="303.3" text-anchor="end" textLength="55.7" lengthAdjust="spacingAndGlyphs">Camera</text>
<text x="693.1" y="336.3" text-anchor="end" textLength="50.5" lengthAdjust="spacingAndGlyphs">3.5mm</text>
<text x="693.1" y="356.2" text-anchor="end" textLength="89.5" lengthAdjust="spacingAndGlyphs">Switch Ports</text>
<text x="694.3" y="389.6" text-anchor="end" textLength="54.9" lengthAdjust="spacingAndGlyphs">USB 2.0</text>
<text x="694.3" y="409.8" text-anchor="end" textLength="37" lengthAdjust="spacingAndGlyphs">Ports</text>
<text x="655.9" y="452.8" text-anchor="start" textLength="279.4" lengthAdjust="spacingAndGlyphs">Anti-microbial/Anti-bacterial Coating</text>
<text x="802.9" y="111.9" text-anchor="start" textLength="99.7" lengthAdjust="spacingAndGlyphs">Power Button</text>
<text x="802.9" y="228.9" text-anchor="start" textLength="44" lengthAdjust="spacingAndGlyphs">Bump</text>
<text x="802.9" y="248.6" text-anchor="start" textLength="84.1" lengthAdjust="spacingAndGlyphs">Guard Case</text>
<text x="802.1" y="373.4" text-anchor="start" textLength="88.3" lengthAdjust="spacingAndGlyphs">Headphone</text>
<text x="802.1" y="394.2" text-anchor="start" textLength="31.5" lengthAdjust="spacingAndGlyphs">Jack</text>
<text x="1427.9" y="95.7" text-anchor="end" textLength="110.8" lengthAdjust="spacingAndGlyphs">Volume Rocker</text>
<text x="1429.4" y="137" text-anchor="end" textLength="150.4" lengthAdjust="spacingAndGlyphs">Front Facing Camera</text>
<text x="1428.4" y="446.9" text-anchor="end" textLength="108.6" lengthAdjust="spacingAndGlyphs">Integrated Eye</text>
<text x="1428.4" y="467" text-anchor="end" textLength="62.9" lengthAdjust="spacingAndGlyphs">Tracking</text>
</g>
</svg>
</body></html>
